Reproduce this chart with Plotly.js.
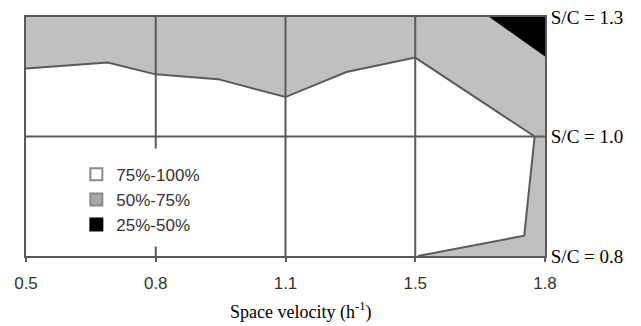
<!DOCTYPE html>
<html>
<head>
<meta charset="utf-8">
<script src="https://cdn.plot.ly/plotly-3.0.1.min.js"></script>
<style>html,body{margin:0;padding:0;background:#fff;}#chart{width:641px;height:326px;}</style>
</head>
<body>
<div id="chart"></div>
<script>
// Space velocity tick labels (evenly spaced on the chart) and their positions
const xTickLabels = ['0.5', '0.8', '1.1', '1.5', '1.8'];
const xTickPos = [0, 1, 2, 3, 4];
// S/C levels (evenly spaced on the chart)
const scLabels = ['S/C = 0.8', 'S/C = 1.0', 'S/C = 1.3'];
const scPos = [0, 1, 2];

// Boundary between 75%-100% (white) and 50%-75% (gray) regions
const boundaryX = [0, 0.63, 1.0, 1.48, 2.0, 2.47, 3.0, 3.92, 3.84, 3.02];
const boundaryY = [1.57, 1.62, 1.52, 1.48, 1.33, 1.54, 1.66, 1.0, 0.17, 0];

// 25%-50% (black) corner region
const blackX = [3.57, 4, 4];
const blackY = [2, 2, 1.67];

const legendNames = ['75%-100%', '50%-75%', '25%-50%'];
const legendColors = ['#ffffff', '#c0c0c0', '#000000'];
const legendSymbolColors = ['#ffffff', '#a8a8a8', '#000000'];
const legendSymbolLines = ['#888888', '#8a8a8a', '#000000'];

const xMin = xTickPos[0], xMax = xTickPos[xTickPos.length - 1];
const yMin = scPos[0], yMax = scPos[scPos.length - 1];

const grayX = [xMin].concat(boundaryX, [xMax, xMax, xMin]);
const grayY = [yMax].concat(boundaryY, [yMin, yMax, yMax]);

const lineCol = '#5a5a5a';

const traces = [
  {x: grayX, y: grayY, type: 'scatter', mode: 'lines', fill: 'toself',
   fillcolor: legendColors[1], line: {width: 0}, showlegend: false, hoverinfo: 'skip'},
  {x: blackX.concat([blackX[0]]), y: blackY.concat([blackY[0]]), type: 'scatter', mode: 'lines', fill: 'toself',
   fillcolor: legendColors[2], line: {width: 0}, showlegend: false, hoverinfo: 'skip'},
  {x: boundaryX, y: boundaryY, type: 'scatter', mode: 'lines',
   line: {color: lineCol, width: 2}, showlegend: false, hoverinfo: 'skip'}
];
legendNames.forEach((n, i) => {
  traces.push({x: [null], y: [null], type: 'scatter', mode: 'markers', name: n,
    marker: {symbol: 'square', size: 11, color: legendSymbolColors[i],
      line: {color: legendSymbolLines[i], width: 1}}});
});

const shapes = [];
xTickPos.slice(1, -1).forEach(p => {
  shapes.push({type: 'line', xref: 'x', yref: 'paper', x0: p, x1: p, y0: 0, y1: 1,
    line: {color: lineCol, width: 2}, layer: 'above'});
});
scPos.slice(1, -1).forEach(p => {
  shapes.push({type: 'line', xref: 'paper', yref: 'y', x0: 0, x1: 1, y0: p, y1: p,
    line: {color: lineCol, width: 2}, layer: 'above'});
});
// blank area behind the legend
shapes.push({type: 'rect', xref: 'x', yref: 'y', x0: 0.4, x1: 1.5, y0: 0.08, y1: 0.9,
  fillcolor: '#ffffff', line: {width: 0}, layer: 'above'});

const layout = {
  width: 641, height: 326,
  margin: {l: 26, r: 96, t: 17, b: 70},
  paper_bgcolor: '#ffffff', plot_bgcolor: '#ffffff',
  showlegend: true,
  legend: {x: 0.097, y: 0.415, xanchor: 'left', yanchor: 'top', bgcolor: 'rgba(0,0,0,0)',
    font: {family: 'Liberation Sans, Arial, sans-serif', size: 17, color: '#333'},
    itemsizing: 'constant', tracegroupgap: 0},
  xaxis: {range: [xMin, xMax], tickvals: xTickPos, ticktext: xTickLabels,
    showgrid: false, zeroline: false, showline: true, mirror: true,
    linecolor: lineCol, linewidth: 2, ticks: 'outside', ticklen: 4, tickwidth: 2, tickcolor: lineCol,
    ticklabelstandoff: 7,
    tickfont: {family: 'Liberation Sans, Arial, sans-serif', size: 17, color: '#333'}, fixedrange: true},
  yaxis: {range: [yMin, yMax], tickvals: scPos, ticktext: scLabels, side: 'right',
    showgrid: false, zeroline: false, showline: true, mirror: true,
    linecolor: lineCol, linewidth: 2, ticks: '',
    tickfont: {family: 'Liberation Serif, Times New Roman, serif', size: 19, color: '#000'}, fixedrange: true},
  shapes: shapes,
  annotations: [{text: 'Space velocity (h<sup>-1</sup>)', xref: 'paper', yref: 'paper',
    x: 0.528, y: -0.232, xanchor: 'center', yanchor: 'middle', showarrow: false,
    font: {family: 'Liberation Serif, Times New Roman, serif', size: 18, color: '#000'}}]
};

Plotly.newPlot('chart', traces, layout, {displayModeBar: false, staticPlot: true});
</script>
</body>
</html>
